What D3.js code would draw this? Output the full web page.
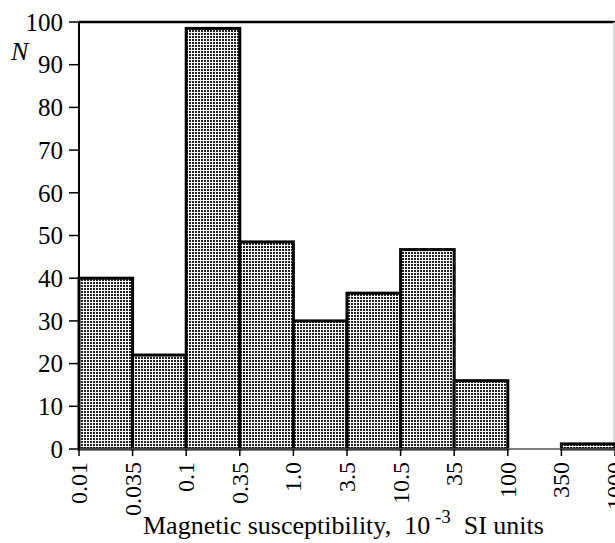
<!DOCTYPE html>
<html>
<head>
<meta charset="utf-8">
<script src="https://cdn.jsdelivr.net/npm/d3@7"></script>
<style>
  body { margin: 0; background: #fff; overflow: hidden; }
  text { font-family: "Liberation Serif", "Times New Roman", serif; fill: #000; }
</style>
</head>
<body>
<div id="chart"></div>
<script>
(function () {
  "use strict";

  // bin edges (equal width on the chart) and counts per bin
  var binEdges = ["0.01", "0.035", "0.1", "0.35", "1.0", "3.5", "10.5", "35", "100", "350", "1000"],
    counts = [40, 22, 98.5, 48.5, 30, 36.5, 46.7, 16, 0, 1.2],
    yTicks = [0, 10, 20, 30, 40, 50, 60, 70, 80, 90, 100];

  var w = 615,
    h = 543,
    left = 79,
    right = 615,
    top = 22,
    bottom = 449;

  var svg = d3.select("#chart")
    .append("svg")
    .attr("width", w)
    .attr("height", h);

  // dotted fill like the print screen
  var pat = svg.append("defs").append("pattern")
    .attr("id", "dots")
    .attr("patternUnits", "userSpaceOnUse")
    .attr("width", 3)
    .attr("height", 3);
  pat.append("rect").attr("width", 3).attr("height", 3).attr("fill", "#fff");
  pat.append("rect").attr("width", 2).attr("height", 2).attr("fill", "#222");

  var x = d3.scaleLinear().domain([0, binEdges.length - 1]).range([left, right]);
  var y = d3.scaleLinear().domain([0, 100]).range([bottom, top]);

  // frame: thick top line, light right edge
  svg.append("line")
    .attr("x1", left).attr("x2", right)
    .attr("y1", top).attr("y2", top)
    .attr("stroke", "#000").attr("stroke-width", 2.5);
  svg.append("line")
    .attr("x1", right - 1).attr("x2", right - 1)
    .attr("y1", top).attr("y2", bottom)
    .attr("stroke", "#ccc").attr("stroke-width", 1.5);

  // bars (empty bins are skipped)
  var bins = counts.map(function (c, i) { return { i: i, value: c }; })
    .filter(function (d) { return d.value > 0; });

  svg.selectAll(".bar")
    .data(bins)
    .enter().append("rect")
    .attr("class", "bar")
    .attr("x", function (d) { return x(d.i); })
    .attr("width", function (d) { return x(d.i + 1) - x(d.i); })
    .attr("y", function (d) { return y(d.value); })
    .attr("height", function (d) { return y(0) - y(d.value); })
    .attr("fill", "url(#dots)")
    .attr("stroke", "#000")
    .attr("stroke-width", 3);

  // bottom axis
  svg.append("line")
    .attr("x1", left).attr("x2", right)
    .attr("y1", bottom).attr("y2", bottom)
    .attr("stroke", "#555").attr("stroke-width", 1.5);

  var xt = svg.selectAll(".xtick")
    .data(binEdges)
    .enter().append("g")
    .attr("class", "xtick")
    .attr("transform", function (d, i) { return "translate(" + x(i) + "," + bottom + ")"; });
  xt.append("line")
    .attr("y1", 0).attr("y2", 7)
    .attr("stroke", "#000").attr("stroke-width", 1.5);
  xt.append("text")
    .attr("transform", "translate(8,13) rotate(-90)")
    .attr("text-anchor", "end")
    .style("font-size", "24px")
    .text(function (d) { return d; });

  // left axis
  svg.append("line")
    .attr("x1", left).attr("x2", left)
    .attr("y1", top).attr("y2", bottom)
    .attr("stroke", "#000").attr("stroke-width", 2);

  var yt = svg.selectAll(".ytick")
    .data(yTicks)
    .enter().append("g")
    .attr("class", "ytick")
    .attr("transform", function (d) { return "translate(" + left + "," + y(d) + ")"; });
  yt.append("line")
    .attr("x1", -10).attr("x2", 0)
    .attr("stroke", "#000").attr("stroke-width", 1.5);
  yt.append("text")
    .attr("x", -16)
    .attr("dy", "0.35em")
    .attr("text-anchor", "end")
    .style("font-size", "25px")
    .text(function (d) { return d; });

  svg.append("text")
    .attr("x", 11).attr("y", 60)
    .style("font-size", "26px")
    .style("font-style", "italic")
    .text("N");

  var lab = svg.append("text")
    .attr("x", 143).attr("y", 534)
    .attr("xml:space", "preserve")
    .style("font-size", "26px");
  lab.append("tspan").text("Magnetic susceptibility,  10");
  lab.append("tspan").attr("dy", -11).style("font-size", "19px").text(" -3");
  lab.append("tspan").attr("dy", 11).text("  SI units");
})();
</script>
</body>
</html>
